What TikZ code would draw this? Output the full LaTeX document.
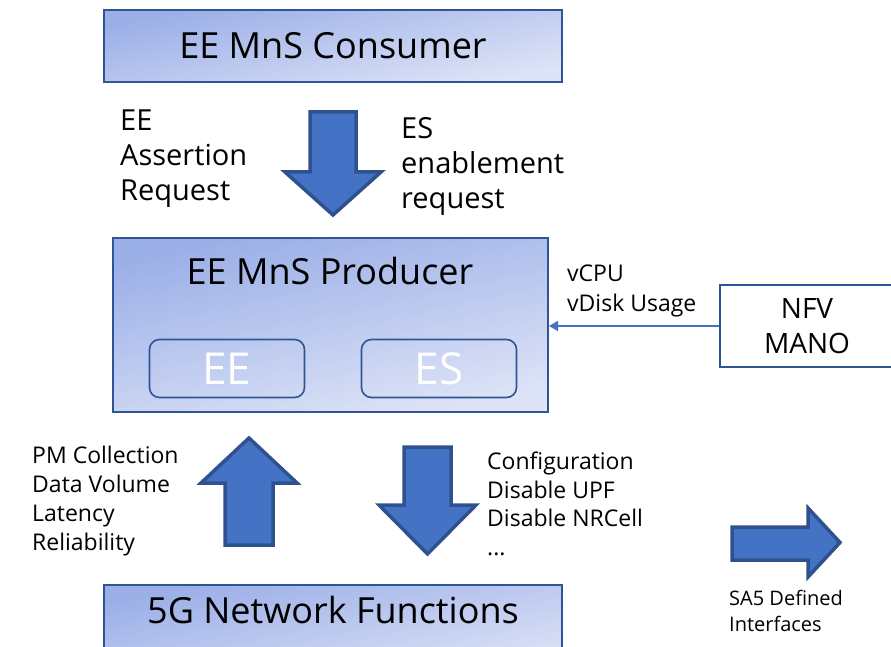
\documentclass[tikz,border=0pt]{standalone}
\usepackage{fontspec}
\setmainfont{Open Sans}
\usetikzlibrary{arrows.meta}

\definecolor{boxline}{RGB}{47,85,151}
\definecolor{shadedark}{RGB}{154,174,231}
\definecolor{shadelight}{RGB}{222,228,247}
\definecolor{arrowfill}{RGB}{68,114,196}
\definecolor{arrowline}{RGB}{47,82,143}

\tikzset{
  mnsbox/.style={draw=boxline, line width=2pt, top color=shadedark, bottom color=shadelight, shading angle=12, inner sep=0},
  funcbox/.style={draw=boxline, line width=1.6pt, rounded corners=10pt, inner sep=0, minimum width=155, minimum height=58, text=white, font=\fontsize{44}{50}\selectfont},
  title/.style={inner sep=0, font=\fontsize{36}{40}\selectfont},
  blockarrow/.style={draw=arrowline, fill=arrowfill, line width=3.5pt},
  note/.style={align=left, inner sep=0, anchor=north west},
}

\begin{document}
\begin{tikzpicture}[x=1pt, y=-1pt]
\useasboundingbox (0,0) rectangle (891,647);
\clip (0,0) rectangle (891,647);
\node (consumer) [mnsbox, minimum width=458, minimum height=72, title] at (333,46) {EE MnS Consumer};
\node (producer) [mnsbox, minimum width=435, minimum height=174] at (330.5,325) {};
\node (prodtitle) [title] at (330,271) {EE MnS Producer};
\node (ee) [funcbox] at (227,368.5) {EE};
\node (es) [funcbox] at (439,368.5) {ES};
\node (mano) [draw=boxline, line width=2pt, fill=white, minimum width=174, minimum height=82, align=center, font=\fontsize{28}{35}\selectfont] at (807,326) {NFV\\MANO};
\node (nf) [mnsbox, minimum width=458, minimum height=90] at (333,630) {};
\node (nftitle) [title] at (333,610) {5G Network Functions};
% requests from the consumer
\draw [blockarrow] (310,112) -- (356,112) -- (356,172) -- (381,172) -- (333,215) -- (285,172) -- (310,172) -- cycle;
\node (eereq) [note, font=\fontsize{29}{35}\selectfont] at (120,110) {EE\\Assertion\\Request};
\node (esreq) [note, font=\fontsize{29}{35}\selectfont] at (401,117) {ES\\enablement\\request};
% measurements up, actions down
\draw [blockarrow] (249,438) -- (297,483) -- (273,483) -- (273,545) -- (225,545) -- (225,483) -- (201,483) -- cycle;
\node (pm) [note, font=\fontsize{23}{29}\selectfont] at (32,446) {PM Collection\\Data Volume\\Latency\\Reliability};
\draw [blockarrow] (404,447) -- (451,447) -- (451,505) -- (476,505) -- (427.5,554) -- (379,505) -- (404,505) -- cycle;
\node (config) [note, font=\fontsize{23}{28.5}\selectfont] at (487,452) {Configuration\\Disable UPF\\Disable NRCell\\...};
% resource usage from MANO
\draw [-{Triangle[length=9pt,width=10pt]}, draw=arrowfill, line width=1.6pt] (mano.west) -- (mano.west -| producer.east);
\node (usage) [note, font=\fontsize{23}{30}\selectfont] at (567,265) {vCPU\\vDisk Usage};
% legend
\draw [blockarrow] (732,527) -- (808,527) -- (808,508) -- (840,542.5) -- (808,577) -- (808,560) -- (732,560) -- cycle;
\node (sa5) [note, font=\fontsize{20}{26}\selectfont] at (729,590) {SA5 Defined\\Interfaces};
\end{tikzpicture}
\end{document}
